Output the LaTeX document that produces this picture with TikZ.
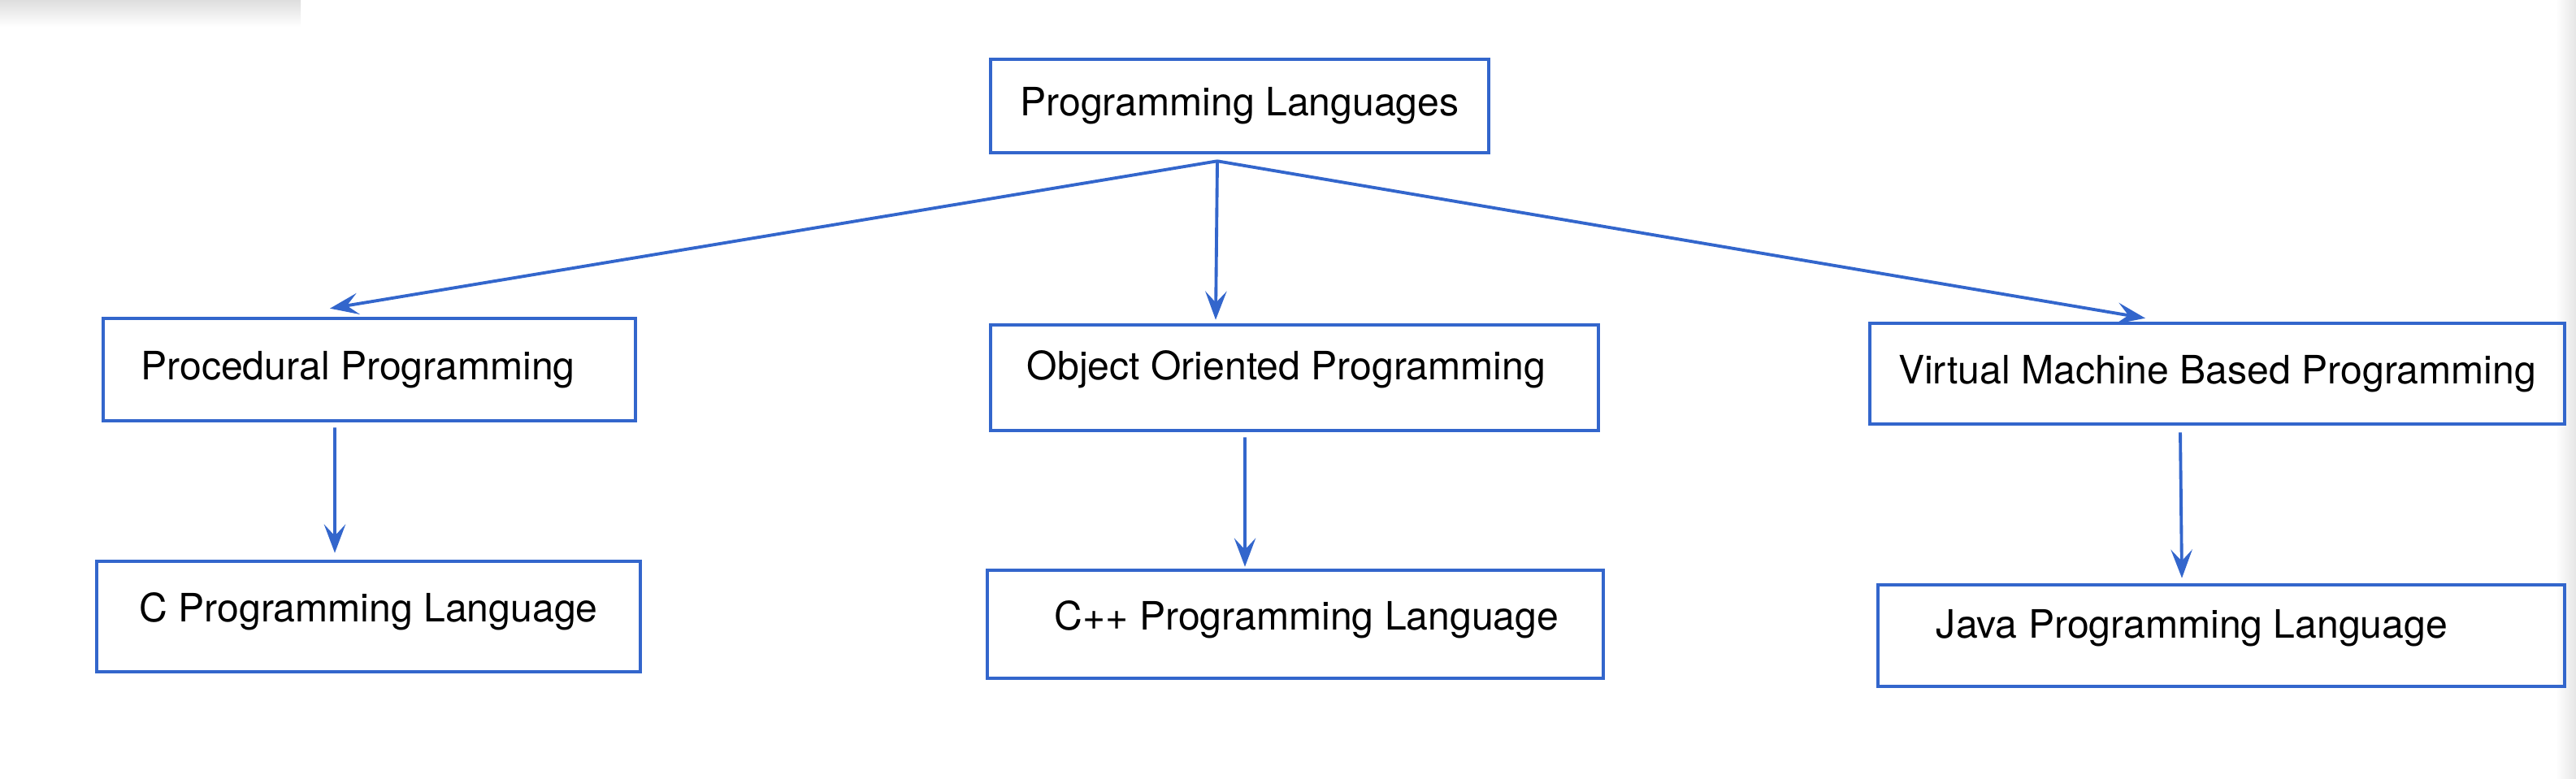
\documentclass[tikz,border=0pt]{standalone}
\usepackage{fontspec}
\setmainfont{TeX Gyre Heros}
\usetikzlibrary{arrows.meta}

\definecolor{azul}{HTML}{3366CC}

\tikzset{
  caja/.style={draw=azul, line width=1.3pt, rectangle, inner sep=0pt,
    font=\fontsize{13.7}{16}\selectfont},
  flecha/.style={draw=azul, line width=1.1pt,
    -{Stealth[length=10pt, width=7.5pt, inset=4pt]}}
}

\begin{document}
\begin{tikzpicture} %Arbol de lenguajes
        \useasboundingbox (0,0) rectangle (31.7,-9.58);
        \shade[top color=black!13, bottom color=white] (0,0) rectangle (3.7,-0.33);
        \shade[left color=white, right color=black!10] (31.45,0) rectangle (31.7,-9.58);

        \node[caja, minimum width=6.13cm, minimum height=1.15cm] (pl) at (15.255,-1.305) {Programming Languages};

        \node[caja, minimum width=6.55cm, minimum height=1.26cm] (proc) at (4.545,-4.55) {\hspace*{-0.28cm}Procedural Programming};
        \node[caja, minimum width=7.48cm, minimum height=1.30cm, text depth=0.30cm] (oop) at (15.93,-4.65) {\hspace*{-0.2cm}Object Oriented Programming};
        \node[caja, minimum width=8.55cm, minimum height=1.24cm] (vm) at (27.285,-4.60) {Virtual Machine Based Programming};

        \node[caja, minimum width=6.69cm, minimum height=1.36cm, text depth=0.22cm] (c) at (4.535,-7.59) {C Programming Language};
        \node[caja, minimum width=7.58cm, minimum height=1.33cm, text depth=0.22cm] (cpp) at (15.94,-7.685) {\hspace*{0.28cm}C++ Programming Language};
        \node[caja, minimum width=8.45cm, minimum height=1.25cm, text depth=0.30cm] (java) at (27.335,-7.825) {\hspace*{-0.72cm}Java Programming Language};

        \coordinate (fork) at ([shift={(-0.275,-0.08)}]pl.south);

        \draw[flecha] (fork) -- ([shift={(-0.485,0.10)}]proc.north);
        \draw[flecha] (fork) -- ([shift={(-0.97,0.04)}]oop.north);
        \draw[flecha] (fork) -- ([shift={(-0.885,0.04)}]vm.north);

        \draw[flecha] ([shift={(-0.425,-0.06)}]proc.south) -- ([shift={(-0.415,0.08)}]c.north);
        \draw[flecha] ([shift={(-0.61,-0.06)}]oop.south) -- ([shift={(-0.62,0.02)}]cpp.north);
        \draw[flecha] ([shift={(-0.455,-0.08)}]vm.south) -- ([shift={(-0.485,0.06)}]java.north);
    \end{tikzpicture}
\end{document}
